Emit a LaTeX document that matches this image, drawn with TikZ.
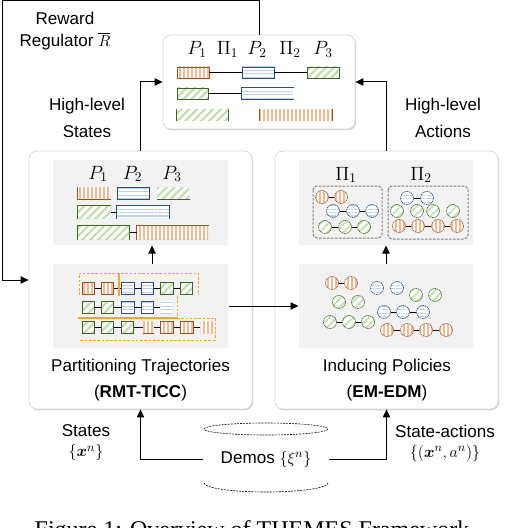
\documentclass[tikz,border=0pt]{standalone}
\usepackage{fontspec}
\setmainfont{Liberation Sans}
\newfontfamily\capfont{Liberation Serif}
\usepackage{bm}
\usetikzlibrary{arrows.meta,patterns.meta,shadows,fit}

\definecolor{ordk}{RGB}{160,82,30}
\definecolor{orfill}{RGB}{246,184,145}
\definecolor{bldk}{RGB}{40,80,130}
\definecolor{blfill}{RGB}{184,208,232}
\definecolor{grdk}{RGB}{62,100,38}
\definecolor{grfill}{RGB}{192,222,170}
\definecolor{segor}{RGB}{246,166,35}
\definecolor{panelgray}{RGB}{242,242,242}

\tikzset{every picture/.style={line width=0.75pt}}
\tikzset{
  arr/.style={-{Triangle[length=6pt,width=5.5pt]}},
  link/.style={draw=black, line width=0.75pt},
  mainbox/.style={inner sep=0pt, draw=black!15, fill=white, rounded corners=6pt, line width=0.6pt,
    drop shadow={shadow xshift=0.8pt, shadow yshift=-1pt, opacity=0.3, fill=black!60}},
  panel/.style={inner sep=0pt, fill=panelgray, rounded corners=1.5pt},
  ofill/.style={preaction={fill=white}, pattern={Lines[angle=90,distance=3pt,line width=1pt]}, pattern color=orfill},
  bfill/.style={preaction={fill=white}, pattern={Lines[angle=0,distance=2.6pt,line width=0.8pt]}, pattern color=blfill},
  gfill/.style={preaction={fill=white}, pattern={Lines[angle=45,distance=4.2pt,line width=1.6pt]}, pattern color=grfill},
  obox/.style={ofill, draw=ordk, line width=0.7pt},
  bbox/.style={bfill, draw=bldk, line width=0.7pt},
  gbox/.style={gfill, draw=grdk, line width=0.7pt},
  sq/.style={minimum width=9.4pt, minimum height=9pt, inner sep=0pt},
  osq/.style={sq, obox}, bsq/.style={sq, bbox}, gsq/.style={sq, gbox},
  bsqopen/.style={sq, bfill}, osqopen/.style={sq, ofill}, osqthin/.style={sq, ofill, minimum width=7.5pt},
  dot/.style={circle, minimum size=9.75pt, inner sep=0pt, line width=0.45pt, dash pattern=on 1.2pt off 0.5pt},
  odot/.style={dot, ofill, draw=ordk}, bdot/.style={dot, bfill, draw=bldk}, gdot/.style={dot, gfill, draw=grdk},
  segdash/.style={draw=segor, line width=0.75pt, dash pattern=on 2pt off 1.2pt},
  segline/.style={draw=segor, line width=0.9pt},
  clbox/.style={draw=black!50, line width=0.75pt, dash pattern=on 2pt off 1pt, rounded corners=3pt},
  cyl/.style={draw=black, line width=0.45pt, dash pattern=on 1.5pt off 0.8pt},
  txt/.style={align=center, inner sep=0pt, font=\fontsize{12.8}{19.5}\selectfont},
  plbl/.style={anchor=base, inner sep=0pt, font=\fontsize{14.4}{18}\selectfont},
}

% a bar between two corners
\newcommand{\segbar}[6]{\node[#1, inner sep=0pt, fit={(#3,#4) (#5,#6)}] (#2) {};}
% a row of linked items: prefix, y, style/x list
\newcommand{\itemchain}[3]{%
  \foreach \st/\cx [count=\ci, remember=\ci as \cp (initially 0)] in {#3}{%
    \node[\st] (#1\ci) at (\cx,#2) {};
    \ifnum\ci>1 \draw[link] (#1\cp) -- (#1\ci);\fi
  }}
% a row of loose items: style, prefix, y, x list
\newcommand{\looseset}[4]{\foreach \cx [count=\ci] in {#4}{\node[#1] (#2\ci) at (\cx,#3) {};}}

\begin{document}
\begin{tikzpicture}[x=0.75pt,y=0.75pt,yscale=-1,xscale=1]
\useasboundingbox (0,0) rectangle (504,528);

% Main boxes
\node[mainbox, fit={(163,35) (355,129)}] (hlbox) {};
\node[mainbox, fit={(29,151) (252,409)}] (partbox) {};
\node[mainbox, fit={(275,151) (498,409)}] (polbox) {};

% Grey panels
\node[panel, fit={(53,160) (228,245)}] (segpanel) {};
\node[panel, fit={(53,264) (228,348)}] (trajpanel) {};
\node[panel, fit={(299,160) (473,245)}] (clpanel) {};
\node[panel, fit={(299,264) (473,348)}] (polpanel) {};

% Top box: high-level sequences
\node[plbl] (tp1) at (197,55) {$P_1$};
\node[plbl] (tpi1) at (227.5,55) {$\Pi_1$};
\node[plbl] (tp2) at (257,55) {$P_2$};
\node[plbl] (tpi2) at (290,55) {$\Pi_2$};
\node[plbl] (tp3) at (323,55) {$P_3$};
\segbar{obox}{ha1}{177}{67}{209}{78}
\segbar{bbox}{ha2}{242}{67}{274}{78}
\segbar{gbox}{ha3}{307}{67}{339}{78}
\draw[link] (ha1) -- (ha2);
\draw[link] (ha2) -- (ha3);
\segbar{gbox}{hb1}{177}{88}{208}{99}
\segbar{bfill}{hb2}{242}{88}{293}{99}
\draw[bldk, line width=0.7pt] (hb2.north east) -- (hb2.north west) -- (hb2.south west) -- (hb2.south east);
\draw[link] (hb1) -- (hb2);
\segbar{gfill}{hc1}{177}{109}{228}{120}
\draw[grdk, line width=0.7pt] (hc1.north west) -- (hc1.south west) (hc1.north east) -- (hc1.south east);
\segbar{ofill}{hc2}{260}{109}{332}{120}
\draw[ordk, line width=0.7pt] (hc2.north west) -- (hc2.south west) (hc2.north east) -- (hc2.south east);

% Left upper panel: segments
\node[plbl] (sp1) at (98,179) {$P_1$};
\node[plbl] (sp2) at (132.5,179) {$P_2$};
\node[plbl] (sp3) at (172,179) {$P_3$};
\segbar{ofill}{pa1}{78}{187}{110}{199}
\draw[ordk, line width=0.7pt] (pa1.north west) -- (pa1.south west) -- (pa1.south east);
\segbar{bbox}{pa2}{117}{187}{149}{199}
\segbar{gfill}{pa3}{157}{187}{189}{199}
\draw[grdk, line width=0.7pt] (pa3.south west) -- (pa3.south east);
\segbar{gfill}{pb1}{78}{206}{110}{218}
\draw[grdk, line width=0.7pt] (pb1.south west) -- (pb1.north west) -- (pb1.north east);
\segbar{bfill}{pb2}{117}{206}{169}{218}
\draw[bldk, line width=0.7pt] (pb2.south west) -- (pb2.north west) -- (pb2.north east) -- (pb2.south east);
\draw[link] (pb1) -- (pb2);
\segbar{gfill}{pc1}{78}{226}{129}{239}
\draw[grdk, line width=0.7pt] (pc1.south west) -- (pc1.north west) -- (pc1.north east) -- (pc1.south east);
\segbar{ofill}{pc2}{137}{226}{208}{239}
\draw[ordk, line width=0.7pt] (pc2.south west) -- (pc2.north west) -- (pc2.north east);
\draw[link] (pc1) -- (pc2);

% Left lower panel: trajectories
\itemchain{ra}{288}{osq/88.5, osq/107.5, bsq/128, bsq/147.5, gsq/167, gsq/186.5}
\itemchain{rb}{307}{gsq/88.5, gsq/107.5, bsq/128, bsq/147.5, bsqopen/167}
\itemchain{rc}{327}{gsq/88.5, gsq/107.5, gsq/127.5, osqthin/148, osq/167, osq/187, osqopen/207}
\draw[ordk, line width=0.7pt] (rc4.south west) -- (rc4.south east);
\draw[segdash] (79,295) -- (79,273) -- (198,273) -- (198,295);
\draw[segline] (119,273) -- (119,296);
\draw[segdash] (177,296) -- (177,318);
\draw[segline] (78,318) -- (177,318);
\draw[segdash] (177,318) -- (215,318) -- (215,340) -- (79,340);

% Right upper panel: clustered policies
\node[plbl] (cpi1) at (346,180) {$\Pi_1$};
\node[plbl] (cpi2) at (421,180) {$\Pi_2$};
\draw[clbox] (313,186) rectangle (382,238);
\draw[clbox] (388,186) rectangle (468,239);
\itemchain{ka}{197}{odot/322, odot/341}
\itemchain{kb}{211}{bdot/333, bdot/353, bdot/372}
\itemchain{kc}{227}{gdot/325, gdot/345, gdot/364}
\itemchain{kd}{198}{bdot/407, bdot/427}
\looseset{gdot}{ke}{211}{397, 417, 433, 453}
\itemchain{kf}{226}{odot/399, odot/418, odot/438, odot/457}

% Right lower panel: induced policies
\itemchain{ia}{283}{odot/332, odot/351}
\looseset{bdot}{ib}{288}{377, 397}
\looseset{gdot}{ic}{295}{416, 435}
\looseset{gdot}{id}{302}{339, 358}
\itemchain{ie}{312}{bdot/384, bdot/403, bdot/423}
\itemchain{ig}{322}{gdot/330, gdot/349, gdot/368}
\itemchain{ih}{330}{odot/387, odot/407, odot/426, odot/446}

% Text Nodes
\node[txt, font=\fontsize{12.8}{16.5}\selectfont] (reward) at (65,31) {Reward\\Regulator $\overline{R}$};
\node[txt, font=\fontsize{12.8}{20}\selectfont] (hlstates) at (87,118) {High-level\\States};
\node[txt, font=\fontsize{12.8}{20}\selectfont] (hlactions) at (443,118) {High-level\\Actions};
\node[txt] (partlbl) at (140.5,380) {Partitioning Trajectories\\(\textbf{RMT-TICC})};
\node[txt] (pollbl) at (387,380) {Inducing Policies\\(\textbf{EM-EDM})};
\node[txt, font=\fontsize{12.8}{15}\selectfont] (stlbl) at (86,443) {States\\$\{\bm{x}^n\}$};
\node[txt, font=\fontsize{12.8}{15}\selectfont] (salbl) at (445,443) {State-actions\\$\{(\bm{x}^n,a^n)\}$};
\node[txt, minimum width=93.75pt] (demos) at (266,459) {Demos $\{\xi^n\}$};
\node[anchor=base, inner sep=0pt, font=\capfont\fontsize{18}{22}\selectfont] (caption) at (252,537) {Figure 1: Overview of THEMES Framework};

% Demo cylinder
\draw[cyl] (demos.center) ++(0,-30) ellipse [x radius=62, y radius=6];
\draw[cyl] (demos.center) ++(-62,24) arc [start angle=180, end angle=0, x radius=62, y radius=9];

% Connectors
\coordinate (fbtop) at (2.5,0.8);
\coordinate (segx) at (152,0);
\draw[arr] (hlbox.north) |- (fbtop) |- (partbox.west);
\draw[arr] (partbox.north) |- (hlbox.west);
\draw[arr] (polbox.north) |- (hlbox.east);
\draw[arr] (trajpanel.east) -- (polpanel.west);
\draw[arr] (trajpanel.north -| segx) -- (segpanel.south -| segx);
\draw[arr] (polpanel.north) -- (clpanel.south);
\draw[arr] (demos.west) -| (partbox.south);
\draw[arr] (demos.east) -| (polbox.south);
\end{tikzpicture}
\end{document}
